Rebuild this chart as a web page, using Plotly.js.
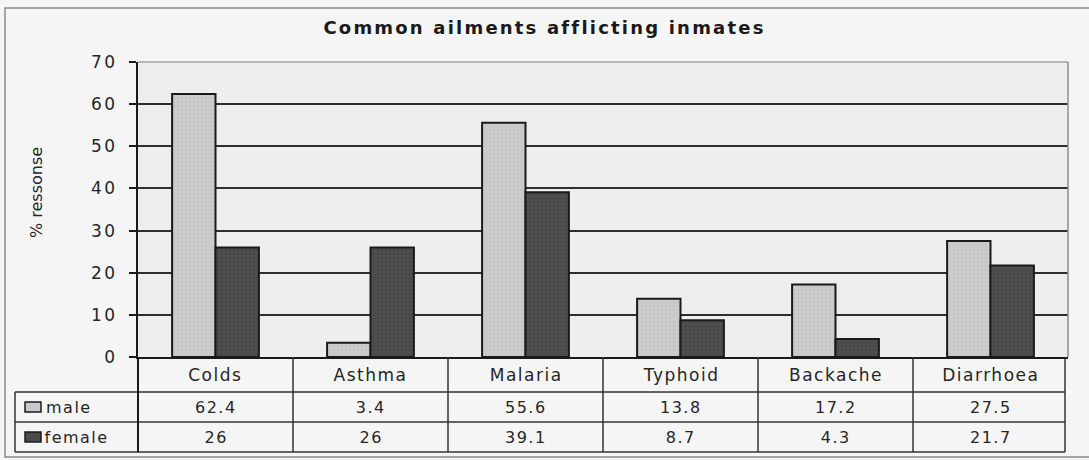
<!DOCTYPE html>
<html>
<head>
<meta charset="utf-8">
<script src="https://cdn.plot.ly/plotly-3.0.1.min.js"></script>
<style>
  html, body { margin: 0; padding: 0; background: #f4f4f4; }
  #chart { width: 1089px; height: 460px; }
  .main-svg text { letter-spacing: 1.5px; }
  .main-svg .gtitle { letter-spacing: 2.2px; }
  .main-svg .ytick text { letter-spacing: 2.5px; }
  .annotation[data-index="0"] text { letter-spacing: 0px; }
</style>
</head>
<body>
<div id="chart"></div>
<script>
// ---- data ----
const categories = ["Colds", "Asthma", "Malaria", "Typhoid", "Backache", "Diarrhoea"];
const male = [62.4, 3.4, 55.6, 13.8, 17.2, 27.5];
const female = [26, 26, 39.1, 8.7, 4.3, 21.7];
const seriesNames = ["male", "female"];
const chartTitle = "Common ailments afflicting inmates";
const yTitle = "% ressonse";
const yTicks = [0, 10, 20, 30, 40, 50, 60, 70];

// ---- geometry (pixels) ----
const W = 1089, H = 460;
const L = 138, R = 1068, T = 62, B = 357;
const PW = R - L, PH = B - T;
const px = x => (x - L) / PW;          // pixel x -> paper x
const py = y => (B - y) / PH;          // pixel y -> paper y

const maleColor = "#c8c8c8", femaleColor = "#4a4a4a", lineCol = "#1a1a1a";
const font = "DejaVu Sans, Arial, sans-serif";
const textCol = "#262626";

const traces = [
  { type: "bar", name: seriesNames[0], x: categories, y: male,
    marker: { color: maleColor, line: { color: lineCol, width: 2 },
      pattern: { shape: ".", bgcolor: maleColor, fgcolor: "#d6d6d6", size: 4, solidity: 0.15 } } },
  { type: "bar", name: seriesNames[1], x: categories, y: female,
    marker: { color: femaleColor, line: { color: lineCol, width: 2 },
      pattern: { shape: ".", bgcolor: femaleColor, fgcolor: "#5a5a5a", size: 4, solidity: 0.15 } } }
];

// ---- table rows (pixel y) ----
const rowTop = [B, 392, 422, 452];
const tableLeft = 15;

const shapes = [];
const annotations = [];

// y-axis title
annotations.push({ xref: "paper", yref: "paper", x: px(36), y: py(193), text: yTitle,
  textangle: -90, showarrow: false, xanchor: "center", yanchor: "middle",
  font: { family: font, size: 16, color: textCol } });

// header row: categories
categories.forEach((c, i) => {
  annotations.push({ xref: "x", yref: "paper", x: i, y: py((rowTop[0] + rowTop[1]) / 2),
    text: c, showarrow: false, xanchor: "center", yanchor: "middle",
    font: { family: font, size: 17, color: textCol } });
});
// value rows + legend keys
[male, female].forEach((vals, r) => {
  const yc = (rowTop[r + 1] + rowTop[r + 2]) / 2;
  vals.forEach((v, i) => {
    annotations.push({ xref: "x", yref: "paper", x: i, y: py(yc),
      text: String(v), showarrow: false, xanchor: "center", yanchor: "middle",
      font: { family: font, size: 16, color: textCol } });
  });
  shapes.push({ type: "rect", xref: "paper", yref: "paper",
    x0: px(25), x1: px(41), y0: py(yc + 5), y1: py(yc - 5),
    fillcolor: r === 0 ? maleColor : femaleColor, line: { color: lineCol, width: 1.5 } });
  annotations.push({ xref: "paper", yref: "paper", x: px(47), y: py(yc),
    text: seriesNames[r], showarrow: false, xanchor: "left", yanchor: "middle",
    font: { family: font, size: 16, color: textCol } });
});

// table grid lines
const gridLine = { color: "#333", width: 1.5 };
[rowTop[1], rowTop[2], rowTop[3]].forEach(y => {
  shapes.push({ type: "line", xref: "paper", yref: "paper", x0: px(tableLeft), x1: px(R - 3),
    y0: py(y), y1: py(y), line: gridLine });
});
shapes.push({ type: "line", xref: "paper", yref: "paper", x0: px(tableLeft), x1: px(tableLeft),
  y0: py(rowTop[1]), y1: py(rowTop[3]), line: gridLine });
shapes.push({ type: "line", xref: "paper", yref: "paper", x0: 0, x1: 0,
  y0: 0, y1: py(rowTop[3]), line: { color: lineCol, width: 2 } });
shapes.push({ type: "line", xref: "paper", yref: "paper", x0: px(R - 3), x1: px(R - 3),
  y0: 0, y1: py(rowTop[3]), line: gridLine });
for (let i = 1; i < categories.length; i++) {
  shapes.push({ type: "line", xref: "x", yref: "paper", x0: i - 0.5, x1: i - 0.5,
    y0: 0, y1: py(rowTop[3]), line: gridLine });
}
// plot frame top/right (light)
shapes.push({ type: "line", xref: "paper", yref: "paper", x0: 0, x1: 1, y0: 1, y1: 1,
  line: { color: "#a0a0a0", width: 1.5 } });
shapes.push({ type: "line", xref: "paper", yref: "paper", x0: 1, x1: 1, y0: 0, y1: 1,
  line: { color: "#8c8c8c", width: 1.5 } });
// outer chart border
shapes.push({ type: "rect", xref: "paper", yref: "paper", x0: px(5), x1: px(1100),
  y0: py(457), y1: py(8), line: { color: "#8a8a8a", width: 1.5 }, fillcolor: "rgba(0,0,0,0)" });

const layout = {
  width: W, height: H,
  margin: { l: L, r: W - R, t: T, b: H - B, pad: 0 },
  paper_bgcolor: "#f5f5f5",
  plot_bgcolor: "#eeeeee",
  showlegend: false,
  barmode: "group",
  bargap: 0.44,
  bargroupgap: 0,
  title: { text: "<b>" + chartTitle + "</b>", x: 0.5, xref: "container", xanchor: "center",
    y: (H - 28) / H, yref: "container", yanchor: "middle",
    font: { family: font, size: 18, color: "#1a1a1a" } },
  xaxis: { type: "category", range: [-0.5, categories.length - 0.5], showline: true,
    linecolor: lineCol, linewidth: 2, showticklabels: false, ticks: "", showgrid: false,
    zeroline: false, fixedrange: true },
  yaxis: { range: [0, 70], tickvals: yTicks, ticktext: yTicks.map(String), showline: true,
    linecolor: lineCol, linewidth: 2, ticks: "outside", ticklen: 7, tickwidth: 2,
    tickcolor: lineCol, showgrid: true, gridcolor: "#2e2e2e", gridwidth: 2,
    zeroline: false, ticklabelstandoff: 8,
    tickfont: { family: font, size: 17, color: textCol }, fixedrange: true },
  shapes: shapes,
  annotations: annotations
};

Plotly.newPlot("chart", traces, layout, { displayModeBar: false, staticPlot: true });
</script>
</body>
</html>
